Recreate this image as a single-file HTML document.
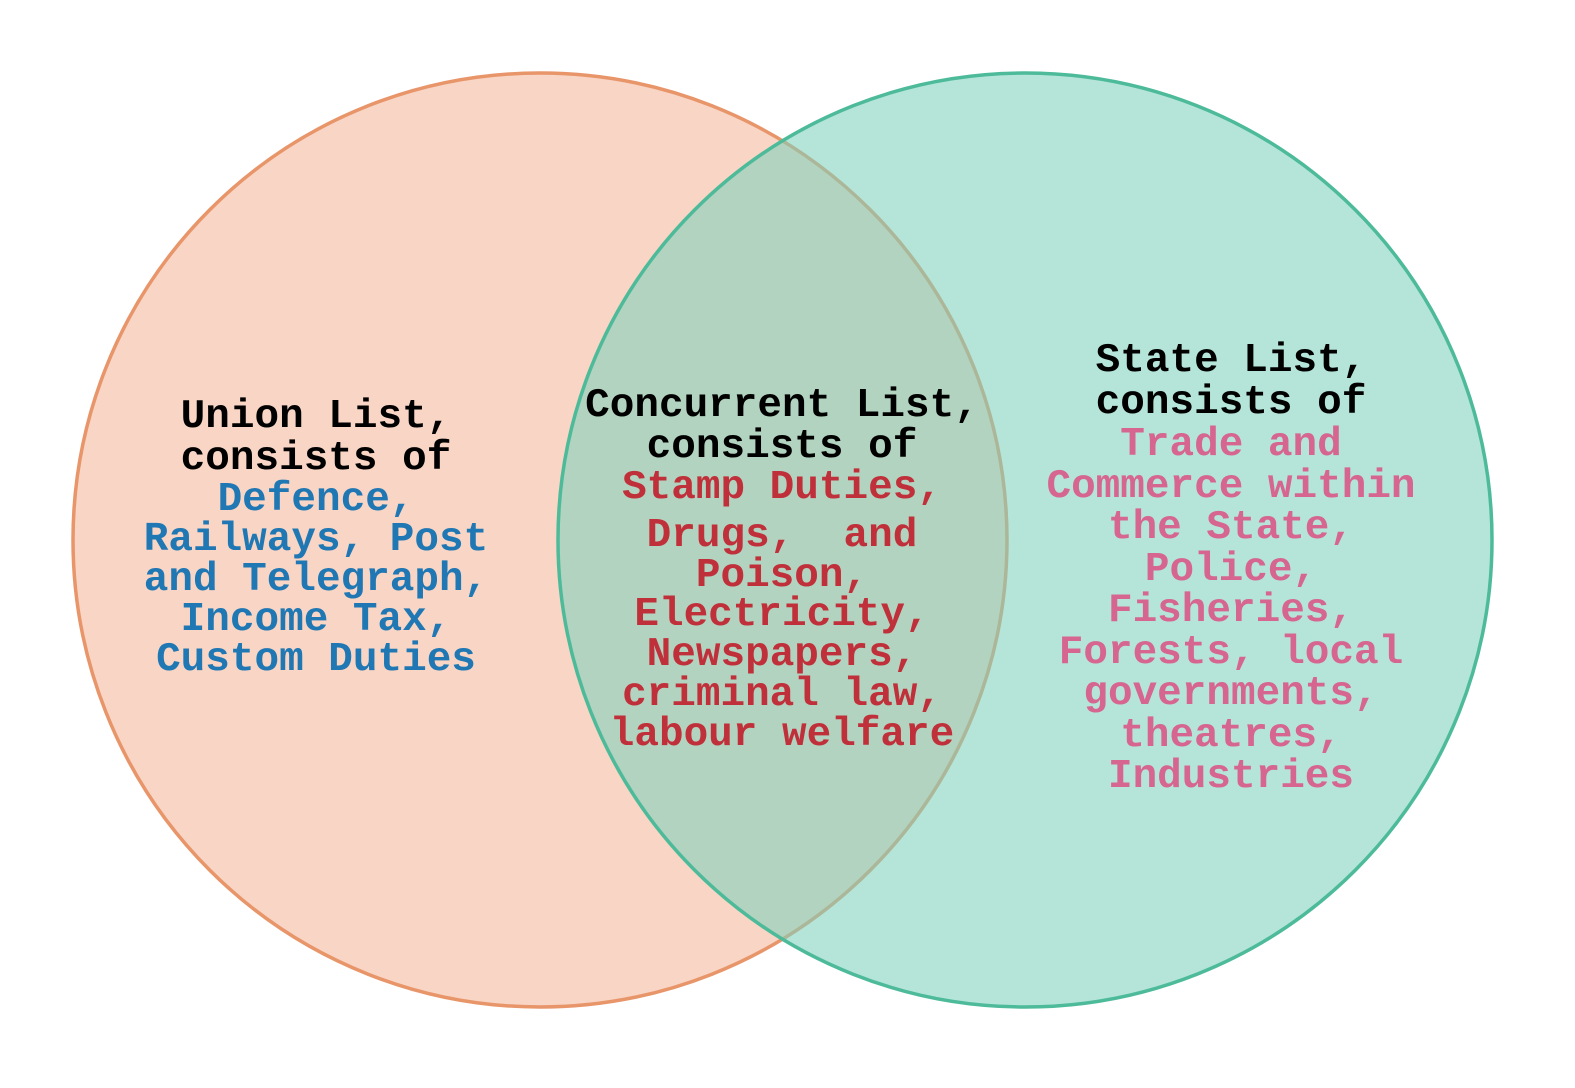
<!DOCTYPE html>
<html><head><meta charset="utf-8"><style>
html,body{margin:0;padding:0;background:#fff;width:1575px;height:1088px;overflow:hidden}
svg{display:block}
text{font-family:"Liberation Mono",monospace;font-weight:bold;font-size:41px;text-anchor:middle;white-space:pre}
</style></head><body>
<svg width="1575" height="1088" viewBox="0 0 1575 1088">
<circle cx="540" cy="540" r="467" fill="#f8d5c4" stroke="#e8956a" stroke-width="3.5"/>
<circle cx="1025" cy="540" r="467" fill="rgba(125,209,188,0.57)" stroke="#4dbb9a" stroke-width="3.5"/>
<g fill="#000">
<text x="316" y="427">Union List,</text>
<text x="316" y="469">consists of</text>
</g>
<g fill="#1f77b4">
<text x="316" y="510">Defence,</text>
<text x="316" y="550">Railways, Post</text>
<text x="316" y="590">and Telegraph,</text>
<text x="316" y="630">Income Tax,</text>
<text x="316" y="670">Custom Duties</text>
</g>
<g fill="#000">
<text x="782" y="416">Concurrent List,</text>
<text x="782" y="457">consists of</text>
</g>
<g fill="#c0303a">
<text x="782" y="498">Stamp Duties,</text>
<text x="782" y="546">Drugs,  and</text>
<text x="782" y="586">Poison,</text>
<text x="782" y="625">Electricity,</text>
<text x="782" y="665">Newspapers,</text>
<text x="782" y="705">criminal law,</text>
<text x="782" y="745">labour welfare</text>
</g>
<g fill="#000">
<text x="1231" y="371">State List,</text>
<text x="1231" y="413">consists of</text>
</g>
<g fill="#d6658f">
<text x="1231" y="455">Trade and</text>
<text x="1231" y="497">Commerce within</text>
<text x="1231" y="538">the State,</text>
<text x="1231" y="580">Police,</text>
<text x="1231" y="621">Fisheries,</text>
<text x="1231" y="663">Forests, local</text>
<text x="1231" y="704">governments,</text>
<text x="1231" y="746">theatres,</text>
<text x="1231" y="787">Industries</text>
</g>
</svg>
</body></html>
